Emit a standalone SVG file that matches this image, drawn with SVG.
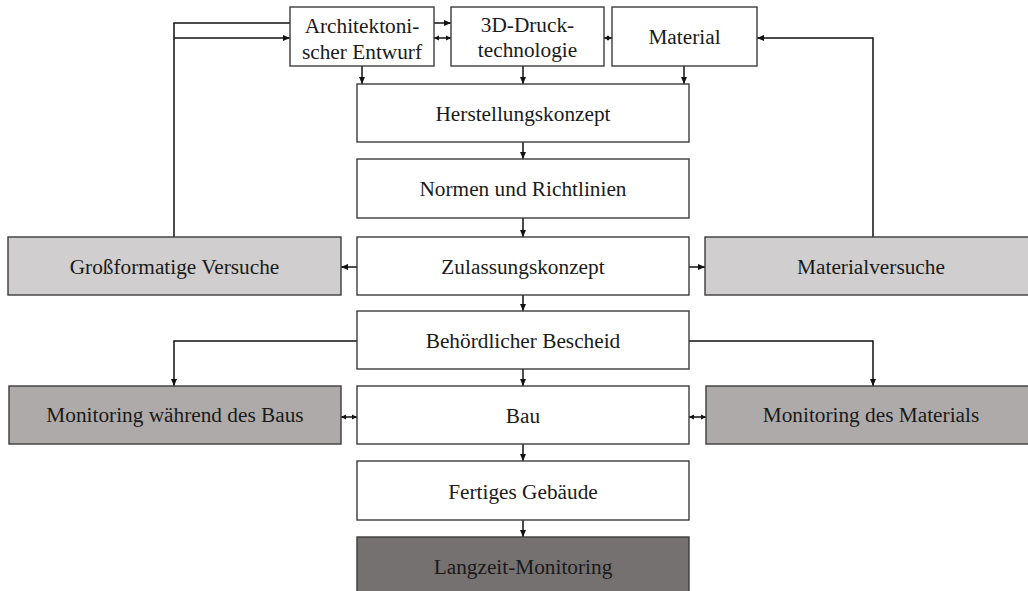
<svg xmlns="http://www.w3.org/2000/svg" width="1028" height="591" viewBox="0 0 1028 591">
<style>
.box{stroke:#3c3c3c;stroke-width:1.4}
.w{fill:#ffffff}
.g1{fill:#d0cece}
.g2{fill:#aeaaaa}
.g3{fill:#757171}
.t{font-family:"Liberation Serif","Times New Roman",serif;font-size:21.3px;fill:#1a1a1a;text-anchor:middle}
.c{fill:none;stroke:#111;stroke-width:1.5}
</style>
<defs>
<marker id="ah" markerUnits="userSpaceOnUse" markerWidth="7" markerHeight="7" refX="7" refY="3.5" orient="auto-start-reverse" viewBox="0 0 7 7">
<path d="M0,0.5 L7,3.5 L0,6.5 z" fill="#111"/>
</marker>
<marker id="sh" markerUnits="userSpaceOnUse" markerWidth="5" markerHeight="6" refX="5" refY="3" orient="auto-start-reverse" viewBox="0 0 5 6">
<path d="M0,0.5 L5,3 L0,5.5 z" fill="#111"/>
</marker>
</defs>
<rect width="1028" height="591" fill="#ffffff"/>

<g id="connectors">
<!-- left feedback loop -->
<polyline class="c" points="174,237 174,23 290,23"/>
<line class="c" x1="434" y1="23" x2="451" y2="23" marker-end="url(#ah)"/>
<polyline class="c" points="174,38 290,38" marker-end="url(#ah)"/>
<!-- right feedback loop -->
<polyline class="c" points="873,237 873,38 757,38" marker-end="url(#ah)"/>
<!-- double arrows top -->
<line class="c" x1="434" y1="38" x2="451" y2="38" marker-start="url(#sh)" marker-end="url(#sh)"/>
<line class="c" x1="604" y1="38" x2="612" y2="38" marker-start="url(#sh)" marker-end="url(#sh)"/>
<!-- down to Herstellungskonzept -->
<line class="c" x1="362" y1="66" x2="362" y2="84" marker-end="url(#ah)"/>
<line class="c" x1="523" y1="66" x2="523" y2="84" marker-end="url(#ah)"/>
<line class="c" x1="684" y1="66" x2="684" y2="84" marker-end="url(#ah)"/>
<!-- main column -->
<line class="c" x1="523" y1="142" x2="523" y2="159" marker-end="url(#ah)"/>
<line class="c" x1="523" y1="218" x2="523" y2="237" marker-end="url(#ah)"/>
<line class="c" x1="523" y1="295" x2="523" y2="311" marker-end="url(#ah)"/>
<line class="c" x1="523" y1="369" x2="523" y2="386" marker-end="url(#ah)"/>
<line class="c" x1="523" y1="444" x2="523" y2="461" marker-end="url(#ah)"/>
<line class="c" x1="523" y1="520" x2="523" y2="537" marker-end="url(#ah)"/>
<!-- Zulassungskonzept sides -->
<line class="c" x1="357" y1="267" x2="341" y2="267" marker-end="url(#ah)"/>
<line class="c" x1="689" y1="267" x2="705" y2="267" marker-end="url(#ah)"/>
<!-- Bescheid to monitoring -->
<polyline class="c" points="357,341 174,341 174,386" marker-end="url(#ah)"/>
<polyline class="c" points="689,341 873,341 873,386" marker-end="url(#ah)"/>
<!-- Bau double arrows -->
<line class="c" x1="341" y1="417" x2="357" y2="417" marker-start="url(#sh)" marker-end="url(#sh)"/>
<line class="c" x1="689" y1="417" x2="706" y2="417" marker-start="url(#sh)" marker-end="url(#sh)"/>
</g>

<g id="arch">
<rect class="box w" x="290" y="7" width="144" height="59"/>
<text class="t" x="362" y="33">Architektoni-</text>
<text class="t" x="362" y="59">scher Entwurf</text>
</g>
<g id="druck">
<rect class="box w" x="451" y="7" width="153" height="59"/>
<text class="t" x="527.5" y="32">3D-Druck-</text>
<text class="t" x="527.5" y="57">technologie</text>
</g>
<g id="material">
<rect class="box w" x="612" y="7" width="145" height="59"/>
<text class="t" x="684.5" y="44">Material</text>
</g>
<g id="herstellung">
<rect class="box w" x="357" y="84" width="332" height="58"/>
<text class="t" x="523" y="121">Herstellungskonzept</text>
</g>
<g id="normen">
<rect class="box w" x="357" y="159" width="332" height="59"/>
<text class="t" x="523" y="196">Normen und Richtlinien</text>
</g>
<g id="zulassung">
<rect class="box w" x="357" y="237" width="332" height="58"/>
<text class="t" x="523" y="273.5">Zulassungskonzept</text>
</g>
<g id="grossformat">
<rect class="box g1" x="8" y="237" width="333" height="58"/>
<text class="t" x="174.5" y="273.5">Großformatige Versuche</text>
</g>
<g id="materialversuche">
<rect class="box g1" x="705" y="237" width="330" height="58"/>
<text class="t" x="871" y="273.5">Materialversuche</text>
</g>
<g id="bescheid">
<rect class="box w" x="357" y="311" width="332" height="58"/>
<text class="t" x="523" y="347.5">Behördlicher Bescheid</text>
</g>
<g id="bau">
<rect class="box w" x="357" y="386" width="332" height="58"/>
<text class="t" x="523" y="422.5">Bau</text>
</g>
<g id="monbau">
<rect class="box g2" x="9" y="386" width="332" height="58"/>
<text class="t" x="175" y="422">Monitoring während des Baus</text>
</g>
<g id="monmat">
<rect class="box g2" x="706" y="386" width="330" height="58"/>
<text class="t" x="871" y="422">Monitoring des Materials</text>
</g>
<g id="fertig">
<rect class="box w" x="357" y="461" width="332" height="59"/>
<text class="t" x="523" y="498.5">Fertiges Gebäude</text>
</g>
<g id="langzeit">
<rect class="box g3" x="357" y="537" width="332" height="62"/>
<text class="t" x="523" y="574">Langzeit-Monitoring</text>
</g>
</svg>
